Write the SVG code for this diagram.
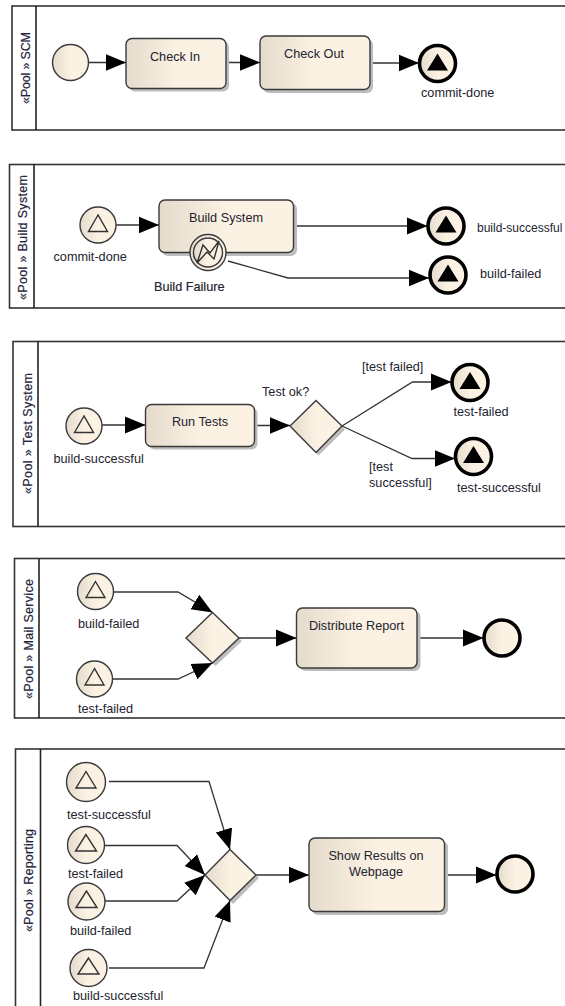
<svg xmlns="http://www.w3.org/2000/svg" width="565" height="1006" viewBox="0 0 565 1006">
<style>
text{font-family:"Liberation Sans",Arial,sans-serif;font-size:12.700px;fill:#23232f}
.pool{fill:#fff;stroke:#333;stroke-width:1.6}
.div{stroke:#222;stroke-width:1.6;fill:none}
.pl{font-size:12.500px;fill:#1f2540;stroke:#1f2540;stroke-width:.2}
.c{text-anchor:middle}
.task,.gw,.ev{fill:url(#g);stroke:#3a3a3a;stroke-width:1.4}
.shadow{fill:#bdbdbd;stroke:none}
.end{fill:url(#g);stroke:#000;stroke-width:3.600}
.tri{fill:none;stroke:#333;stroke-width:1.4}
.tfill{fill:#000}
.flow{fill:none;stroke:#333;stroke-width:1.3;marker-end:url(#a)}
.bg{fill:#fff}
</style>
<defs>
<linearGradient id="g" x1="0" x2="1" y1="0" y2="0"><stop offset="0" stop-color="#e5dbcc"/><stop offset=".5" stop-color="#fbf2e4"/><stop offset="1" stop-color="#fbf2e4"/></linearGradient>
<marker id="a" markerUnits="userSpaceOnUse" markerWidth="22" markerHeight="19" refX="20.500" refY="9" orient="auto"><path d="M0 0.500L20.500 9L0 17.500z" fill="#000"/></marker>
</defs>
<rect class="bg" width="565" height="1006"/>
<g id="pool-scm"><rect class="pool" x="12" y="6" width="600" height="124"/><path class="div" d="M36 6V130"/><text class="pl" textLength="72" transform="translate(30 104) rotate(-90)">«Pool » SCM</text></g>
<g id="pool-build"><rect class="pool" x="9.500" y="164.500" width="600" height="143.500"/><path class="div" d="M34 164.500V308"/><text class="pl" textLength="125" transform="translate(27 300) rotate(-90)">«Pool » Build System</text></g>
<g id="pool-test"><rect class="pool" x="13" y="341.500" width="600" height="185"/><path class="div" d="M38 341.500V526.500"/><text class="pl" textLength="121" transform="translate(32 494) rotate(-90)">«Pool » Test System</text></g>
<g id="pool-mail"><rect class="pool" x="14.500" y="558.500" width="600" height="159.500"/><path class="div" d="M39 558.500V718"/><text class="pl" textLength="120" transform="translate(32.500 699) rotate(-90)">«Pool » Mail Service</text></g>
<g id="pool-reporting"><rect class="pool" x="15.500" y="749" width="600" height="300"/><path class="div" d="M40.500 749V1049"/><text class="pl" textLength="103" transform="translate(33 932) rotate(-90)">«Pool » Reporting</text></g>

<g id="connectors">
<path class="flow" d="M89 62.500H126"/>
<path class="flow" d="M226 62.500H260"/>
<path class="flow" d="M370 63H419"/>
<path class="flow" d="M116 225H159"/>
<path class="flow" d="M293.500 226H427.500"/>
<path class="flow" d="M228 261L288 278H429"/>
<path class="flow" d="M102 425H145.500"/>
<path class="flow" d="M254.500 425.500H290"/>
<path class="flow" d="M342 426L412.500 382H451.500"/>
<path class="flow" d="M342 426L412 458.500H455"/>
<path class="flow" d="M114 592H178L212.500 612.500"/>
<path class="flow" d="M113 679H178L212.500 663"/>
<path class="flow" d="M239 638H296.500"/>
<path class="flow" d="M417 638H483.500"/>
<path class="flow" d="M109 781.500H209L230 849.500"/>
<path class="flow" d="M103 845.500H177L205 875"/>
<path class="flow" d="M103 901H177L205 875"/>
<path class="flow" d="M109 968H204L230 900.500"/>
<path class="flow" d="M256 875H309"/>
<path class="flow" d="M445 875H496.500"/>
</g>

<g id="scm-start"><circle class="ev" cx="70.500" cy="62.500" r="18"/></g>
<g id="check-in"><rect class="shadow" x="129" y="41.500" width="100" height="50" rx="6"/><rect class="task" x="126" y="38.500" width="100" height="50" rx="6"/><text class="c" x="175" y="60.500">Check In</text></g>
<g id="check-out"><rect class="shadow" x="263" y="39" width="110" height="54" rx="6"/><rect class="task" x="260" y="36" width="110" height="53.500" rx="6"/><text class="c" x="314" y="58">Check Out</text></g>
<g id="scm-end"><circle class="end" cx="437.500" cy="63.500" r="18"/><path class="tfill" d="M437.500 53.500L427 70.500H448z"/><text x="421" y="97">commit-done</text></g>

<g id="build-start"><circle class="ev" cx="98" cy="225" r="18"/><path class="tri" d="M98 215L88.500 231.500H107.500z"/><text x="53.500" y="260.500">commit-done</text></g>
<g id="build-system"><rect class="shadow" x="162" y="203" width="135" height="53" rx="6"/><rect class="task" x="159" y="200" width="134.500" height="52.500" rx="6"/><text class="c" x="226" y="222">Build System</text></g>
<g id="build-failure"><circle class="ev" cx="208" cy="252.500" r="18"/><circle class="ev" cx="208" cy="252.500" r="14.500"/><path class="tri" stroke-width="1" d="M197 263L203 245L210 253L219 241L214 259L207 252z"/><text x="154" y="291" stroke="#23232f" stroke-width=".2">Build Failure</text></g>
<g id="build-success-end"><circle class="end" cx="446" cy="226" r="18"/><path class="tfill" d="M446 215.500L435.500 232.500H456.500z"/><text x="477" y="232" style="font-size:12px">build-successful</text></g>
<g id="build-failed-end"><circle class="end" cx="448" cy="275" r="18"/><path class="tfill" d="M448 264.500L437.500 281.500H458.500z"/><text x="480" y="277.500">build-failed</text></g>

<g id="test-start"><circle class="ev" cx="84" cy="426" r="18"/><path class="tri" d="M84 416L74.500 432.500H93.500z"/><text x="53.500" y="463">build-successful</text></g>
<g id="run-tests"><rect class="shadow" x="148.500" y="407.500" width="109" height="42" rx="6"/><rect class="task" x="145.500" y="404.500" width="109" height="42" rx="6"/><text class="c" x="200" y="426">Run Tests</text></g>
<g id="test-ok"><path class="shadow" d="M318.500 403.500L345 429.500L318.500 455.500L293 429.500z"/><path class="gw" d="M316 400.500L342 426L316 452.500L290 426z"/><text x="262" y="396">Test ok?</text></g>
<g id="test-failed-end"><circle class="end" cx="470" cy="382.500" r="18"/><path class="tfill" d="M470 372L459.500 389H480.500z"/><text x="453.500" y="416">test-failed</text></g>
<g id="test-success-end"><circle class="end" cx="473.500" cy="456.500" r="18"/><path class="tfill" d="M473.500 446L463 463H484z"/><text x="457" y="491.500">test-successful</text></g>
<g id="test-labels"><text x="362" y="371">[test failed]</text><text x="369" y="471">[test</text><text x="369" y="487">successful]</text></g>

<g id="mail-start-1"><circle class="ev" cx="95.500" cy="591.500" r="18"/><path class="tri" d="M95.500 581.500L86 597.500H105z"/><text x="78" y="627.500">build-failed</text></g>
<g id="mail-start-2"><circle class="ev" cx="94.500" cy="679" r="18"/><path class="tri" d="M94.500 668.500L85 685H104z"/><text x="78" y="712.500">test-failed</text></g>
<g id="mail-gateway"><path class="shadow" d="M215.500 616L242 641L215.500 666L189 641z"/><path class="gw" d="M212.500 612.500L239 638L212.500 663L186 638z"/></g>
<g id="distribute-report"><rect class="shadow" x="299.500" y="611" width="121" height="60" rx="6"/><rect class="task" x="296.500" y="608" width="120.500" height="60" rx="6"/><text class="c" x="356.500" y="630">Distribute Report</text></g>
<g id="mail-end"><circle class="end" cx="502" cy="638" r="18"/></g>

<g id="rep-start-1"><circle class="ev" cx="86" cy="782" r="19.500"/><path class="tri" d="M86 771.500L76 788H96z"/><text x="67" y="819">test-successful</text></g>
<g id="rep-start-2"><circle class="ev" cx="86" cy="845" r="18.500"/><path class="tri" d="M86 834.500L75.500 851H96.500z"/><text x="68" y="878">test-failed</text></g>
<g id="rep-start-3"><circle class="ev" cx="86.500" cy="901.500" r="18.500"/><path class="tri" d="M86.500 891L76 907.500H97z"/><text x="70" y="935">build-failed</text></g>
<g id="rep-start-4"><circle class="ev" cx="88.500" cy="968" r="18.500"/><path class="tri" d="M88.500 958L78 974H99z"/><text x="73" y="1000">build-successful</text></g>
<g id="rep-gateway"><path class="shadow" d="M233 853L259 878L233 904L208 878z"/><path class="gw" d="M230 849.500L256 875L230 900.500L205 875z"/></g>
<g id="show-results"><rect class="shadow" x="312" y="841" width="136" height="74" rx="6"/><rect class="task" x="309" y="838" width="135.500" height="73.500" rx="6"/><text class="c" x="376" y="859.500">Show Results on</text><text class="c" x="376" y="876">Webpage</text></g>
<g id="rep-end"><circle class="end" cx="515" cy="874" r="18"/></g>
</svg>
